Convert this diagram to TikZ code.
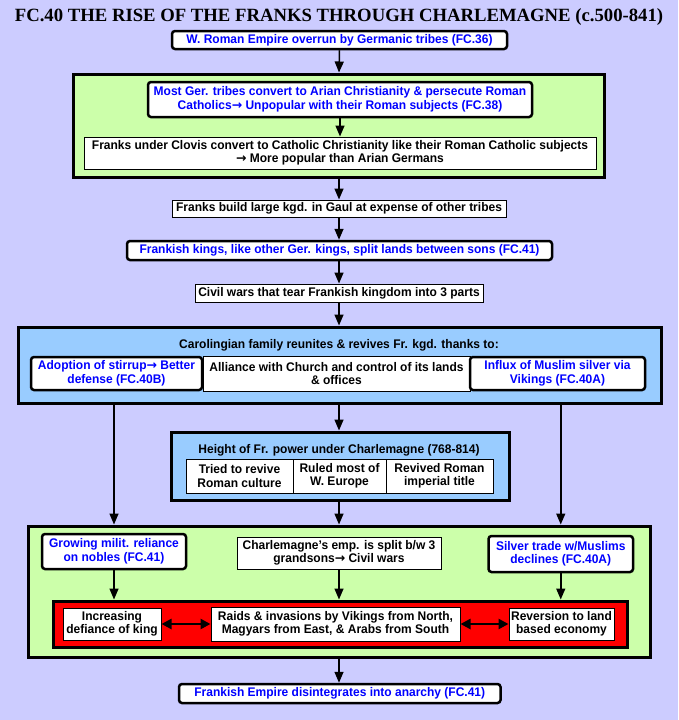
\documentclass[tikz,border=0pt]{standalone}
\usepackage{fontspec}
\setmainfont{Liberation Sans}[FakeStretch=0.96]
\newfontfamily\titlefont{Liberation Serif}
\newfontfamily\arrowfont{DejaVu Sans}
\newcommand\toarrow{{\arrowfont →}}
\usetikzlibrary{arrows.meta}
\definecolor{lavender}{RGB}{204,204,255}
\definecolor{framegreen}{RGB}{204,255,170}
\definecolor{frameblue}{RGB}{153,204,255}
\definecolor{linkblue}{RGB}{0,0,255}

\begin{document}
\begin{tikzpicture}[x=1pt, y=-1pt,
		every node/.style={font=\fontsize{12.5}{13.5}\selectfont\bfseries, align=center, inner sep=0pt},
		plainbox/.style={draw, fill=white, line width=1pt},
		linkbox/.style={draw, fill=white, text=linkblue, line width=2.5pt, rounded corners=3pt},
		greenframe/.style={draw, fill=framegreen, line width=3pt},
		blueframe/.style={draw, fill=frameblue, line width=3pt},
		redframe/.style={draw, fill=red, line width=3pt},
		arr/.style={-{Triangle[width=9pt,length=11pt]}, line width=1.5pt},
		twoarr/.style={{Triangle[width=10pt,length=10pt]}-{Triangle[width=10pt,length=10pt]}, line width=2.5pt}]
		\fill[lavender] (0,0) rectangle (678,720);
		\useasboundingbox (0,0) rectangle (678,720);

		\path (339,17) node (title) {\titlefont\fontsize{18.7}{20}\selectfont FC.40 THE RISE OF THE FRANKS THROUGH CHARLEMAGNE (c.500-841)}
		(339.5,40) node[linkbox, minimum width=335, minimum height=18] (overrun) {W. Roman Empire overrun by Germanic tribes (FC.36)}
		(339,125.5) node[greenframe, minimum width=531, minimum height=103] (convert) {}
		(340,99.5) node[linkbox, minimum width=384, minimum height=35] (arian) {Most Ger. tribes convert to Arian Christianity \& persecute Roman\\Catholics\toarrow\ Unpopular with their Roman subjects (FC.38)}
		(340,153) node[plainbox, minimum width=512, minimum height=32] (clovis) {Franks under Clovis convert to Catholic Christianity like their Roman Catholic subjects\\\toarrow\ More popular than Arian Germans}
		(339,208.5) node[plainbox, minimum width=334, minimum height=17] (gaul) {Franks build large kgd. in Gaul at expense of other tribes}
		(339.5,250.5) node[linkbox, minimum width=425, minimum height=19] (sons) {Frankish kings, like other Ger. kings, split lands between sons (FC.41)}
		(339,293) node[plainbox, minimum width=288, minimum height=18] (civil) {Civil wars that tear Frankish kingdom into 3 parts};

		\path (339.5,365) node[blueframe, minimum width=643, minimum height=76] (carol) {}
		(339,345) node (carolhead) {Carolingian family reunites \& revives Fr. kgd. thanks to:}
		(116.5,373.5) node[linkbox, minimum width=171, minimum height=33] (stirrup) {Adoption of stirrup\toarrow\ Better\\defense  (FC.40B)}
		(336.5,373.5) node[plainbox, minimum width=267, minimum height=35] (church) {Alliance with Church and control of its lands\\\& offices}
		(557.5,373.5) node[linkbox, minimum width=175, minimum height=33] (influx) {Influx of Muslim silver via\\Vikings (FC.40A)};

		\path (340,466) node[blueframe, minimum width=338, minimum height=68] (height) {}
		(339,450) node (heighthead) {Height of Fr. power under Charlemagne (768-814)}
		(239.5,476) node[plainbox, minimum width=107, minimum height=34] (culture) {Tried to revive\\Roman culture}
		(339.5,476) node[plainbox, minimum width=93, minimum height=34] (europe) {Ruled most of\\W. Europe}
		(439.5,476) node[plainbox, minimum width=107, minimum height=34] (imperial) {Revived Roman\\imperial title};

		\path (339.5,591.5) node[greenframe, minimum width=622, minimum height=131] (decline) {}
		(114,551.5) node[linkbox, minimum width=144, minimum height=35] (nobles) {Growing milit. reliance\\on nobles (FC.41)}
		(339,553) node[plainbox, minimum width=204, minimum height=32] (split) {Charlemagne's emp. is split b/w 3\\grandsons\toarrow\ Civil wars}
		(560.75,554) node[linkbox, minimum width=144.5, minimum height=36] (silver) {Silver trade w/Muslims\\declines (FC.40A)}
		(340.25,624) node[redframe, minimum width=573.5, minimum height=46] (chaos) {}
		(112,624) node[plainbox, minimum width=98, minimum height=32] (defiance) {Increasing\\defiance of king}
		(335.5,624) node[plainbox, minimum width=249, minimum height=34] (raids) {Raids \& invasions by Vikings from North,\\Magyars from East, \& Arabs from South}
		(561.5,624) node[plainbox, minimum width=105, minimum height=32] (land) {Reversion to land\\based economy}
		(339.75,693.5) node[linkbox, minimum width=321.5, minimum height=19] (anarchy) {Frankish Empire disintegrates into anarchy (FC.41)};

		\draw[arr] (overrun.south) -- (convert.north);
		\draw[arr] (arian.south) -- (clovis.north);
		\draw[arr] (convert.south -| gaul) -- (gaul.north);
		\draw[arr] (gaul.south) -- (sons.north -| gaul);
		\draw[arr] (sons.south -| civil) -- (civil.north);
		\draw[arr] (civil.south) -- (carol.north -| civil);
		\draw[arr] (carol.south -| heighthead) -- (height.north -| heighthead);
		\draw[arr] (carol.south -| nobles) -- (decline.north -| nobles);
		\draw[arr] (carol.south -| silver) -- (decline.north -| silver);
		\draw[arr] (height.south -| split) -- (decline.north -| split);
		\draw[arr] (nobles.south) -- (chaos.north -| nobles);
		\draw[arr] (split.south) -- (chaos.north -| split);
		\draw[arr] (silver.south) -- (chaos.north -| silver);
		\draw[arr] (decline.south -| split) -- (anarchy.north -| split);
		\draw[twoarr] (defiance.east) -- (raids.west);
		\draw[twoarr] (raids.east) -- (land.west);

	\end{tikzpicture}
\end{document}
